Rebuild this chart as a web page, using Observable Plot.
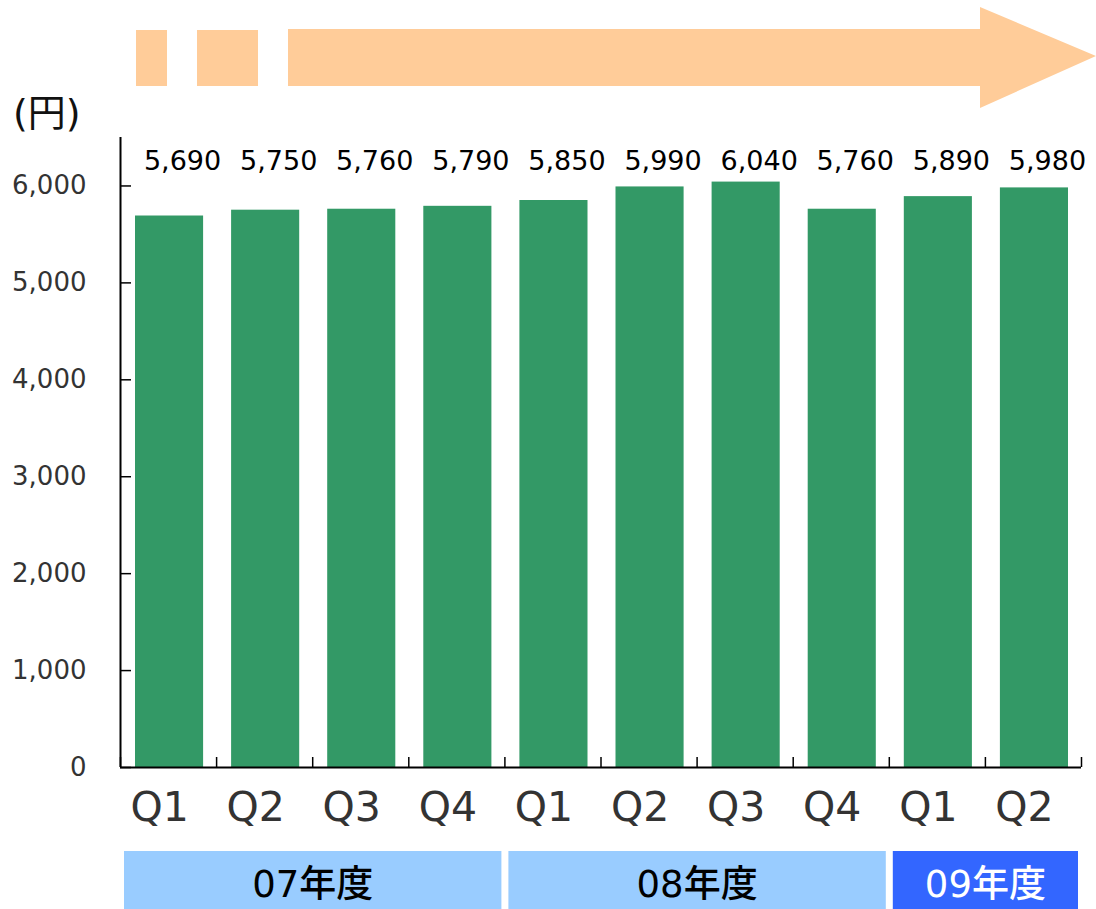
<!DOCTYPE html>
<html>
<head>
<meta charset="utf-8">
<script src="https://cdn.jsdelivr.net/npm/d3@7"></script>
<script src="https://cdn.jsdelivr.net/npm/@observablehq/plot@0.6"></script>
<style>
  html, body { margin: 0; padding: 0; background: #fff; }
  #wrap { position: relative; width: 1096px; height: 909px; overflow: hidden; background: #fff; }
  #main { position: absolute; left: 0; top: 0; }
  #years { position: absolute; left: 0; top: 851px; }
  #arrow { position: absolute; left: 0; top: 0; }
  #unit { position: absolute; left: 13px; top: 91px; font: 38px/44px "DejaVu Sans", "Noto Sans CJK JP", sans-serif; color: #111; }
</style>
</head>
<body>
<div id="wrap">
  <div id="main"></div>
  <div id="years"></div>
  <svg id="arrow" width="1096" height="120">
    <rect x="136" y="30" width="31" height="56" fill="#ffcc99"></rect>
    <rect x="197" y="30" width="61" height="56" fill="#ffcc99"></rect>
    <polygon points="288,29 980,29 980,7 1096,56 980,108 980,86 288,86" fill="#ffcc99"></polygon>
  </svg>
  <div id="unit">(円)</div>
</div>
<script>
// ---- data ----
const quarters = ["Q1", "Q2", "Q3", "Q4", "Q1", "Q2", "Q3", "Q4", "Q1", "Q2"];
const values = [5690, 5750, 5760, 5790, 5850, 5990, 6040, 5760, 5890, 5980];
const yTicks = [0, 1000, 2000, 3000, 4000, 5000, 6000];
const yearLabels = ["07年度", "08年度", "09年度"];
const yearQuarterCounts = [4, 4, 2];
const currentYear = "09年度";

// ---- derived tables ----
const rows = quarters.map((q, i) => ({i, q, v: values[i]}));
const boundaries = d3.range(quarters.length + 1);
const ends = Array.from(d3.cumsum(yearQuarterCounts));
const years = yearLabels.map((label, k) => ({label, start: ends[k] - yearQuarterCounts[k], end: ends[k]}));
const fmt = d3.format(",");
const latin = "'DejaVu Sans', 'Noto Sans CJK JP', sans-serif";

const main = Plot.plot({
  width: 1096,
  height: 850,
  marginLeft: 120,
  marginRight: 15,
  marginTop: 137,
  marginBottom: 83,
  x: {type: "linear", domain: [0, quarters.length], axis: null},
  y: {domain: [0, 6500], axis: null},
  style: {background: "transparent", overflow: "visible"},
  marks: [
    Plot.rectY(rows, {x1: d => d.i, x2: d => d.i + 1, y: "v", fill: "#339966", insetLeft: 15, insetRight: 13}),
    Plot.ruleX([0], {stroke: "#000", strokeWidth: 2}),
    Plot.ruleY([0], {stroke: "#000", strokeWidth: 2}),
    Plot.ruleY(yTicks, {y: d => d, x1: 0, x2: 0, insetRight: -11, stroke: "#000", strokeWidth: 1.5}),
    Plot.ruleX(boundaries, {x: d => d, y1: 0, y2: 0, insetTop: -10, stroke: "#000", strokeWidth: 1.5}),
    Plot.text(yTicks, {x: 0, y: d => d, text: d => fmt(d), textAnchor: "end", dx: -34, fontSize: 26, fill: "#333", fontFamily: latin}),
    Plot.text(rows, {x: d => d.i + 0.5, text: d => fmt(d.v), frameAnchor: "top", lineAnchor: "middle", dy: 24, dx: 14, fontSize: 27, fill: "#000", fontFamily: latin, letterSpacing: "2px"}),
    Plot.text(rows, {x: d => d.i + 0.5, y: 0, text: "q", dy: 40, dx: -9, fontSize: 41, fill: "#333", fontFamily: latin})
  ]
});
document.getElementById("main").appendChild(main);

const yearsPlot = Plot.plot({
  width: 1096,
  height: 58,
  marginLeft: 120,
  marginRight: 15,
  marginTop: 0,
  marginBottom: 0,
  x: {type: "linear", domain: [0, quarters.length], axis: null},
  color: {domain: yearLabels, range: ["#99ccff", "#99ccff", "#3366ff"]},
  style: {background: "transparent", overflow: "visible"},
  marks: [
    Plot.rect(years, {x1: "start", x2: "end", fill: "label", insetLeft: 4, insetRight: 3}),
    Plot.text(years.filter(d => d.label !== currentYear), {x: d => (d.start + d.end) / 2, text: "label", frameAnchor: "middle", dy: 5, fontSize: 37, fontWeight: 500, fill: "#000", fontFamily: latin}),
    Plot.text(years.filter(d => d.label === currentYear), {x: d => (d.start + d.end) / 2, text: "label", frameAnchor: "middle", dy: 5, fontSize: 37, fontWeight: 500, fill: "#fff", fontFamily: latin})
  ]
});
document.getElementById("years").appendChild(yearsPlot);
</script>
</body>
</html>
